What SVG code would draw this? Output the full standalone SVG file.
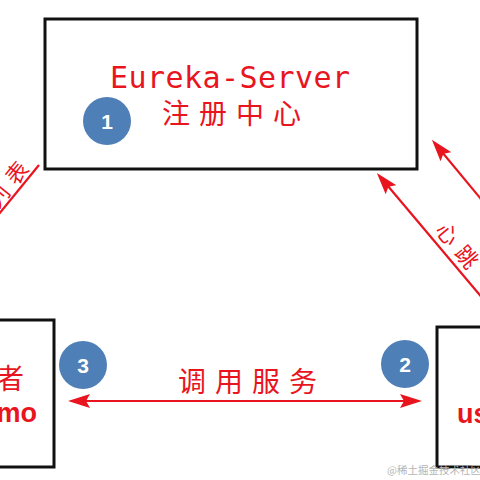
<svg xmlns="http://www.w3.org/2000/svg" width="480" height="480" viewBox="0 0 480 480">
<style>
.box{fill:#fff;stroke:#111;stroke-width:3}
.red{fill:#e8141e}
.cjk{font-family:"Noto Sans CJK SC","Noto Sans",sans-serif}
.lat{font-family:"Liberation Sans",Arial,sans-serif;font-weight:bold}
.mono{font-family:"DejaVu Sans Mono","Liberation Mono",monospace}
.ln{stroke:#e8141e;stroke-width:2.2;fill:none}
.badge{fill:#4f7fb7}
.num{fill:#fff;font-family:"Liberation Sans",Arial,sans-serif;font-weight:bold;font-size:21px;text-anchor:middle}
</style>
<defs>
<marker id="ah" markerUnits="userSpaceOnUse" markerWidth="22" markerHeight="14" refX="14" refY="7" orient="auto-start-reverse" viewBox="0 0 22 14">
<path d="M0,0 L22,7 L0,14 L4,7 Z" fill="#e8141e"/>
</marker>
</defs>
<rect width="480" height="480" fill="#fff"/>
<g id="connectors">
<line class="ln" x1="76" y1="401" x2="414" y2="401" marker-start="url(#ah)" marker-end="url(#ah)"/>
<line class="ln" x1="500" y1="319" x2="382" y2="179" marker-end="url(#ah)"/>
<line class="ln" x1="500" y1="222" x2="437" y2="146" marker-end="url(#ah)"/>
<line class="ln" x1="39" y1="165" x2="-10" y2="225"/>
<text class="cjk red" font-size="22" letter-spacing="8" transform="translate(447.5,234) rotate(50)" x="-11" y="8">心跳</text>
<text class="cjk red" font-size="22" letter-spacing="8" transform="translate(17,173) rotate(-51)" x="-41" y="8">列表</text>
<text class="cjk red" font-size="28" letter-spacing="9" x="178" y="392">调用服务</text>
</g>
<g id="server">
<rect class="box" x="45" y="19" width="372" height="150"/>
<text class="mono red" font-size="30" x="230" y="88" text-anchor="middle" textLength="240">Eureka-Server</text>
<text class="cjk red" font-size="28" letter-spacing="9" x="162" y="124">注册中心</text>
<circle class="badge" cx="107" cy="121" r="24"/>
<text class="num" x="107" y="128.5">1</text>
</g>
<g id="consumer">
<rect class="box" x="-10" y="320" width="64" height="147"/>
<text class="cjk red" font-size="28" x="24" y="389" text-anchor="end">者</text>
<text class="lat red" font-size="27" x="37" y="422" text-anchor="end">mo</text>
</g>
<g id="provider">
<rect class="box" x="437" y="327" width="60" height="140"/>
<text class="lat red" font-size="27" x="457" y="423">us</text>
</g>
<g id="badge3">
<circle class="badge" cx="83" cy="365" r="24"/>
<text class="num" x="83" y="372.5">3</text>
</g>
<g id="badge2">
<circle class="badge" cx="405" cy="364" r="24"/>
<text class="num" x="405" y="371.5">2</text>
</g>
<text class="cjk" font-size="10.5" fill="#b5b5b5" x="387" y="474">@稀土掘金技术社区</text>
</svg>
